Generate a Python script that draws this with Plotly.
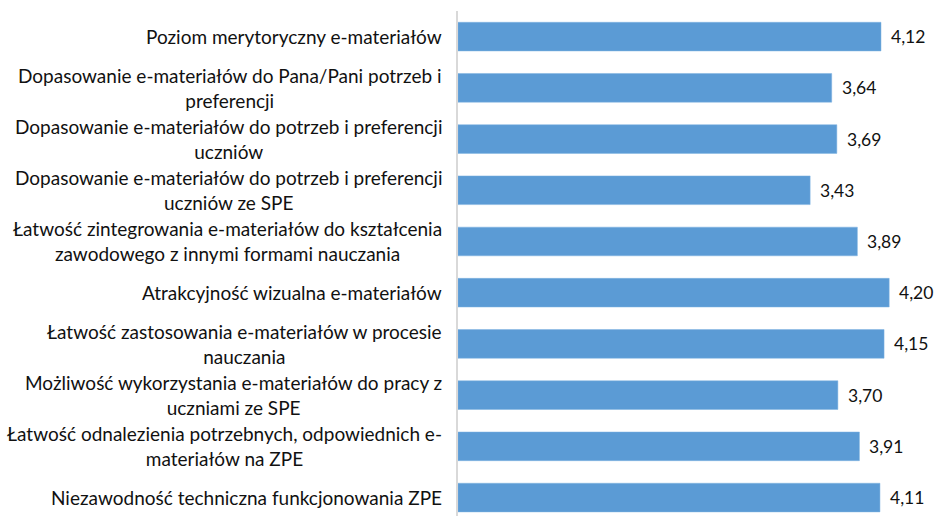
import plotly.graph_objects as go

categories = [
    "Poziom merytoryczny e-materiałów",
    "Dopasowanie e-materiałów do Pana/Pani potrzeb i<br>preferencji",
    "Dopasowanie e-materiałów do potrzeb i preferencji<br>uczniów",
    "Dopasowanie e-materiałów do potrzeb i preferencji<br>uczniów ze SPE",
    "Łatwość zintegrowania e-materiałów do kształcenia<br>zawodowego z innymi formami nauczania",
    "Atrakcyjność wizualna e-materiałów",
    "Łatwość zastosowania e-materiałów w procesie<br>nauczania",
    "Możliwość wykorzystania e-materiałów do pracy z<br>uczniami ze SPE",
    "Łatwość odnalezienia potrzebnych, odpowiednich e-<br>materiałów na ZPE",
    "Niezawodność techniczna funkcjonowania ZPE",
]
values = [4.12, 3.64, 3.69, 3.43, 3.89, 4.20, 4.15, 3.70, 3.91, 4.11]

FONT = "Lato, Carlito, Calibri, sans-serif"
idx = list(range(len(categories)))

fig = go.Figure()
fig.add_trace(go.Bar(
    x=values, y=idx, orientation="h",
    marker=dict(color="#5B9BD5", line=dict(color="#7FB2E0", width=0.5)),
    hoverinfo="skip",
))

annotations = []
for i, (c, v) in enumerate(zip(categories, values)):
    annotations.append(dict(
        x=0, xref="paper", y=i, yref="y", text=c, showarrow=False,
        xanchor="right", yanchor="middle", align="center", xshift=-14,
        font=dict(family=FONT, size=19, color="#111111"),
    ))
    annotations.append(dict(
        x=v, xref="x", y=i, yref="y", text=f"{v:.2f}".replace(".", ","),
        showarrow=False, xanchor="left", yanchor="middle", xshift=8,
        font=dict(family=FONT, size=17.5, color="#111111"),
    ))

fig.update_layout(
    width=938, height=516,
    margin=dict(l=458, r=18, t=11, b=0, pad=0),
    plot_bgcolor="white", paper_bgcolor="white",
    bargap=0.44, showlegend=False,
    annotations=annotations,
    xaxis=dict(range=[0, 4.5], showgrid=False, zeroline=False, showticklabels=False,
               ticks="", showline=False),
    yaxis=dict(range=[9.36, -0.5], showgrid=False, zeroline=False, showticklabels=False,
               ticks="", showline=True, linecolor="#D9D9D9", linewidth=1.5),
)

fig.write_html(
    "out.html",
    config={"displayModeBar": False},
    post_script="document.body.style.margin='0';"
                "document.documentElement.style.overflow='hidden';"
                "document.body.style.overflow='hidden';",
)
